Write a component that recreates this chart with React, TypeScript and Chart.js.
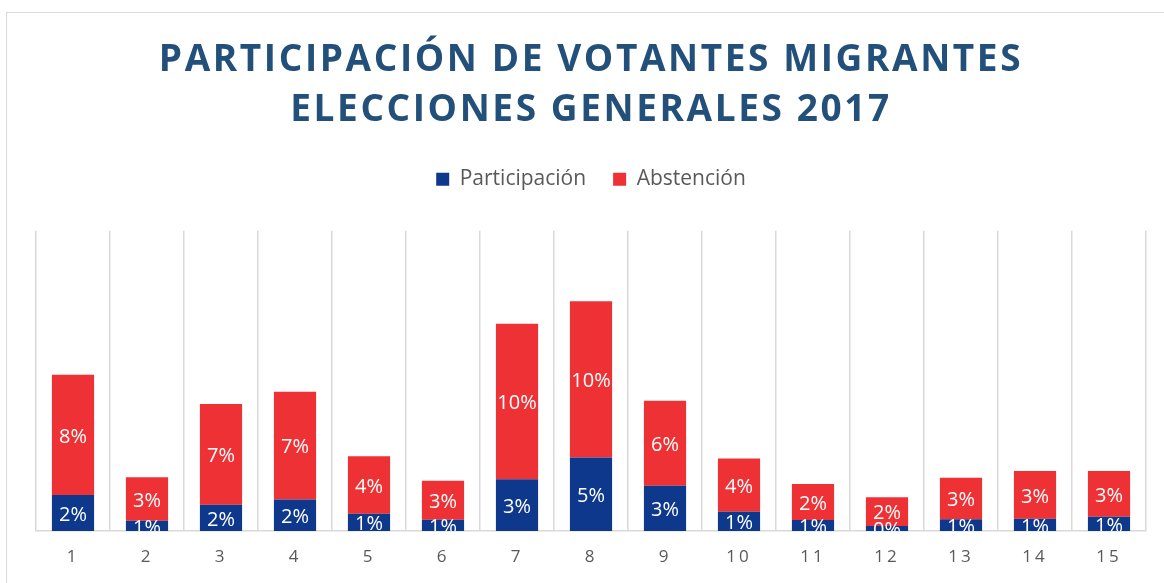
import React, { useEffect, useRef } from 'react';
import { Chart, registerables } from 'chart.js';

Chart.register(...registerables);

const categories = ['1', '2', '3', '4', '5', '6', '7', '8', '9', '10', '11', '12', '13', '14', '15'];
const participacion = [2.4, 0.69, 1.75, 2.09, 1.15, 0.75, 3.45, 4.89, 3.02, 1.29, 0.73, 0.33, 0.78, 0.82, 0.95];
const abstencion = [8.0, 2.89, 6.71, 7.18, 3.83, 2.6, 10.35, 10.4, 5.65, 3.53, 2.4, 1.91, 2.77, 3.18, 3.05];
const seriesNames = ['Participación', 'Abstención'];
const titleLines = ['PARTICIPACIÓN DE VOTANTES MIGRANTES', 'ELECCIONES GENERALES 2017'];
const yMax = 20;

const BLUE = '#0E388C';
const RED = '#EE3134';

export default function App() {
  const ref = useRef<HTMLCanvasElement>(null);

  useEffect(() => {
    const canvas = ref.current;
    if (!canvas) return;

    const spacingPlugin = {
      id: 'spacingPlugin',
      afterInit(chart: any) {
        const lg = chart.legend;
        if (lg && !lg.__patched) {
          const origFit = lg.fit.bind(lg);
          lg.fit = function () {
            origFit();
            this.height += 31;
          };
          lg.__patched = true;
        }
      },
      beforeDraw(chart: any) {
        const ctx = chart.ctx;
        const tb = chart.titleBlock;
        if (tb && !tb.__patched) {
          const orig = tb.draw.bind(tb);
          tb.draw = (...a: any[]) => {
            ctx.save();
            (ctx as any).letterSpacing = '2.6px';
            orig(...a);
            ctx.restore();
          };
          tb.__patched = true;
        }
        const xs = chart.scales.x;
        if (xs && !xs.__patched) {
          const o = xs.drawLabels.bind(xs);
          xs.drawLabels = (area: any) => {
            ctx.save();
            (ctx as any).letterSpacing = '3px';
            o(area);
            ctx.restore();
          };
          xs.__patched = true;
        }
      },
    };

    const labelPlugin = {
      id: 'segmentLabels',
      afterDatasetsDraw(chart: any) {
        const ctx = chart.ctx;
        const area = chart.chartArea;
        ctx.save();
        ctx.beginPath();
        ctx.rect(area.left, area.top, area.right - area.left, area.bottom - area.top);
        ctx.clip();
        ctx.fillStyle = '#FFFFFF';
        ctx.font = '20px "Open Sans"';
        ctx.textAlign = 'center';
        ctx.textBaseline = 'middle';
        chart.data.datasets.forEach((ds: any, i: number) => {
          const meta = chart.getDatasetMeta(i);
          meta.data.forEach((bar: any, j: number) => {
            const p = bar.getProps(['x', 'y', 'base'], true);
            const v = ds.data[j];
            ctx.fillText(Math.round(v) + '%', p.x, (p.y + p.base) / 2 + 2);
          });
        });
        ctx.restore();
      },
    };

    const chart = new Chart(canvas, {
      type: 'bar',
      data: {
        labels: categories,
        datasets: [
          { label: seriesNames[0], data: participacion, backgroundColor: BLUE },
          { label: seriesNames[1], data: abstencion, backgroundColor: RED },
        ],
      },
      options: {
        responsive: false,
        animation: false,
        devicePixelRatio: 1,
        layout: { padding: { top: 0, left: 36, right: 18, bottom: 0 } },
        datasets: { bar: { categoryPercentage: 1, barPercentage: 0.57 } },
        scales: {
          x: {
            stacked: true,
            grid: { display: true, color: '#D9D9D9', lineWidth: 1.5, drawTicks: false, offset: true },
            border: { display: true, color: '#D9D9D9', width: 1.5 },
            ticks: {
              color: '#595959',
              font: { family: 'Open Sans', size: 17, lineHeight: '16px' },
              padding: 18,
            },
          },
          y: { stacked: true, display: false, min: 0, max: yMax },
        },
        plugins: {
          title: {
            display: true,
            text: titleLines,
            color: '#22507A',
            font: { family: 'Open Sans', size: 37, weight: 'bold', lineHeight: 1.36 },
            padding: { top: 35, bottom: 6 },
          },
          legend: {
            display: true,
            position: 'top',
            labels: {
              color: '#595959',
              font: { family: 'Open Sans', size: 21 },
              boxWidth: 13,
              boxHeight: 13,
              padding: 27,
            },
          },
          tooltip: { enabled: false },
        },
      } as any,
      plugins: [spacingPlugin, labelPlugin],
    });

    return () => chart.destroy();
  }, []);

  return (
    <div style={{ position: 'fixed', left: 0, top: 0, width: 1164, height: 583, background: '#FFFFFF', overflow: 'hidden' }}>
      <div
        style={{
          position: 'absolute',
          left: 6,
          top: 12,
          width: 1200,
          height: 620,
          border: '1px solid #D9D9D9',
          boxSizing: 'border-box',
        }}
      />
      <canvas ref={ref} width={1164} height={583} style={{ position: 'absolute', left: 0, top: 0, width: 1164, height: 583 }} />
    </div>
  );
}
